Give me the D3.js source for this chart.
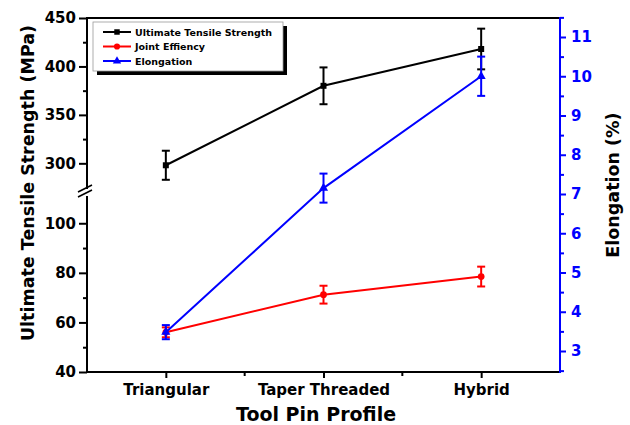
<!DOCTYPE html>
<html><head><meta charset="utf-8">
<script src="https://cdn.jsdelivr.net/npm/d3@7"></script>
<style>
body{margin:0;background:#fff;}
svg{display:block;}
text{font-family:"DejaVu Sans",sans-serif;font-weight:bold;}
</style></head>
<body><svg id="c" width="630" height="425"></svg>
<script>
const categories = ["Triangular", "Taper Threaded", "Hybrid"];
const utsValues = [298, 380, 418];
const utsErrors = [15, 19, 21];
const jointValues = [56, 71.2, 78.5];
const jointErrors = [2, 3.6, 4];
const elongValues = [3.48, 7.15, 10.0];
const elongErrors = [0.18, 0.37, 0.5];
const upperTicks = [300, 350, 400, 450];
const upperMinor = [325, 375, 425];
const lowerTicks = [40, 60, 80, 100];
const lowerMinor = [50, 70, 90];
const rightTicks = [3, 4, 5, 6, 7, 8, 9, 10, 11];
const rightMinor = [2.5, 3.5, 4.5, 5.5, 6.5, 7.5, 8.5, 9.5, 10.5, 11.5];
const legendLabels = ["Ultimate Tensile Strength", "Joint Effiency", "Elongation"];

const BLACK = "#000", RED = "#ff0000", BLUE = "#0000ff";
const L = 87, R = 560, T = 18, B = 372;
const svg = d3.select("#c");

const x = d3.scalePoint().domain(categories).range([L, R]).padding(0.5);
const yUp = d3.scaleLinear().domain([273.5, 450]).range([189, T]);
const yLo = d3.scaleLinear().domain([40, 111]).range([B, 196]);
const yR = d3.scaleLinear().domain([2.465, 11.484]).range([B, T]);

function styleAxis(g, color, fs) {
  g.select(".domain").remove();
  g.selectAll("line").attr("stroke", color).attr("stroke-width", 2);
  g.selectAll("text").attr("fill", color).style("font-size", fs + "px");
}

// left upper axis
const gUp = svg.append("g").attr("transform", `translate(${L},0)`)
  .call(d3.axisLeft(yUp).tickValues(upperTicks).tickSize(8).tickPadding(3));
styleAxis(gUp, BLACK, 15);
svg.append("g").attr("transform", `translate(${L},0)`)
  .call(d3.axisLeft(yUp).tickValues(upperMinor).tickSize(4).tickFormat(""))
  .call(g => styleAxis(g, BLACK, 15));
const gLo = svg.append("g").attr("transform", `translate(${L},0)`)
  .call(d3.axisLeft(yLo).tickValues(lowerTicks).tickSize(8).tickPadding(3));
styleAxis(gLo, BLACK, 15);
svg.append("g").attr("transform", `translate(${L},0)`)
  .call(d3.axisLeft(yLo).tickValues(lowerMinor).tickSize(4).tickFormat(""))
  .call(g => styleAxis(g, BLACK, 15));

// right axis
const gR = svg.append("g").attr("transform", `translate(${R},0)`)
  .call(d3.axisRight(yR).tickValues(rightTicks).tickSize(6).tickPadding(5));
styleAxis(gR, BLUE, 15);
svg.append("g").attr("transform", `translate(${R},0)`)
  .call(d3.axisRight(yR).tickValues(rightMinor).tickSize(4).tickFormat(""))
  .call(g => styleAxis(g, BLUE, 15));

// bottom axis
const gX = svg.append("g").attr("transform", `translate(0,${B})`)
  .call(d3.axisBottom(x).tickSize(6).tickPadding(6));
styleAxis(gX, BLACK, 15);
const mids = [(x(categories[0]) + x(categories[1])) / 2, (x(categories[1]) + x(categories[2])) / 2];
svg.append("g").selectAll("line").data(mids).join("line")
  .attr("x1", d => d).attr("x2", d => d).attr("y1", B).attr("y2", B + 4)
  .attr("stroke", BLACK).attr("stroke-width", 2);

// frame lines
svg.append("line").attr("x1", L).attr("x2", R).attr("y1", T).attr("y2", T).attr("stroke", BLACK).attr("stroke-width", 2);
svg.append("line").attr("x1", L - 1).attr("x2", R).attr("y1", B).attr("y2", B).attr("stroke", BLACK).attr("stroke-width", 2);
svg.append("line").attr("x1", R).attr("x2", R).attr("y1", T - 1).attr("y2", B + 1).attr("stroke", BLUE).attr("stroke-width", 2);
svg.append("line").attr("x1", L).attr("x2", L).attr("y1", T - 1).attr("y2", 189).attr("stroke", BLACK).attr("stroke-width", 2);
svg.append("line").attr("x1", L).attr("x2", L).attr("y1", 196).attr("y2", B + 1).attr("stroke", BLACK).attr("stroke-width", 2);
// break marks
[0, 5].forEach(o => {
  svg.append("line").attr("x1", L - 9).attr("y1", 192 + o).attr("x2", L + 5).attr("y2", 185 + o)
    .attr("stroke", BLACK).attr("stroke-width", 1.6);
});

// series
function drawSeries(vals, errs, yScale, color, shape) {
  const g = svg.append("g");
  const pts = categories.map((c, i) => ({ x: x(c), v: vals[i], e: errs[i] }));
  g.append("path").datum(pts)
    .attr("d", d3.line().x(d => d.x).y(d => yScale(d.v)))
    .attr("fill", "none").attr("stroke", color).attr("stroke-width", 2);
  pts.forEach(p => {
    const y1 = yScale(p.v + p.e), y2 = yScale(p.v - p.e);
    g.append("line").attr("x1", p.x).attr("x2", p.x).attr("y1", y1).attr("y2", y2).attr("stroke", color).attr("stroke-width", 2);
    [y1, y2].forEach(yy => g.append("line").attr("x1", p.x - 4).attr("x2", p.x + 4).attr("y1", yy).attr("y2", yy).attr("stroke", color).attr("stroke-width", 2));
    g.append("path").attr("d", d3.symbol().type(shape).size(36)())
      .attr("transform", `translate(${p.x},${yScale(p.v)})`).attr("fill", color);
  });
}
drawSeries(utsValues, utsErrors, yUp, BLACK, d3.symbolSquare);
drawSeries(jointValues, jointErrors, yLo, RED, d3.symbolCircle);
drawSeries(elongValues, elongErrors, yR, BLUE, d3.symbolTriangle);

// legend
const lg = svg.append("g");
lg.append("rect").attr("x", 97).attr("y", 26).attr("width", 190).attr("height", 49).attr("fill", BLACK);
lg.append("rect").attr("x", 93).attr("y", 22).attr("width", 190).attr("height", 49).attr("fill", "#fff").attr("stroke", "#999").attr("stroke-width", 0.8);
const legColors = [BLACK, RED, BLUE];
const legShapes = [d3.symbolSquare, d3.symbolCircle, d3.symbolTriangle];
legendLabels.forEach((t, i) => {
  const yy = 32 + i * 14.5;
  lg.append("line").attr("x1", 103).attr("x2", 131).attr("y1", yy).attr("y2", yy).attr("stroke", legColors[i]).attr("stroke-width", 2);
  lg.append("path").attr("d", d3.symbol().type(legShapes[i]).size(30)()).attr("transform", `translate(117,${yy})`).attr("fill", legColors[i]);
  lg.append("text").attr("x", 135).attr("y", yy + 3.5).style("font-size", "9.5px").attr("fill", BLACK).text(t);
});

// titles
svg.append("text").attr("transform", "translate(34,183) rotate(-90)").attr("text-anchor", "middle")
  .style("font-size", "17.5px").text("Ultimate Tensile Strength (MPa)");
svg.append("text").attr("transform", "translate(619,185) rotate(-90)").attr("text-anchor", "middle")
  .style("font-size", "17.5px").text("Elongation (%)");
svg.append("text").attr("x", 316).attr("y", 421).attr("text-anchor", "middle")
  .style("font-size", "19px").text("Tool Pin Profile");
</script></body></html>
